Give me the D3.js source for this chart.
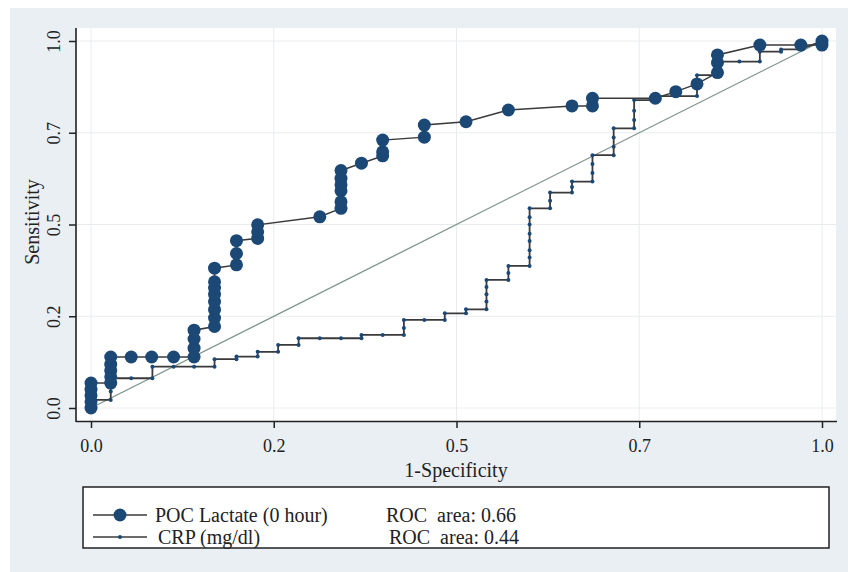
<!DOCTYPE html>
<html>
<head>
<meta charset="utf-8">
<script src="https://cdn.jsdelivr.net/npm/d3@7"></script>
<style>
  body { margin: 0; background: #fff; }
  svg { display: block; font-family: "Liberation Serif", "DejaVu Serif", serif; }
</style>
</head>
<body>
<svg id="chart" width="848" height="572"></svg>
<script>
// axis ticks (Stata rounds 0.25 / 0.75 to one decimal)
const tickValues = [0, 0.25, 0.5, 0.75, 1];
const tickLabels = ['0.0', '0.2', '0.5', '0.7', '1.0'];

// POC Lactate (0 hour)
const lactateFpr = [
  0, 0, 0, 0, 0,
  0.027, 0.027, 0.027, 0.027, 0.027,
  0.055, 0.083, 0.113,
  0.141, 0.141, 0.141, 0.141,
  0.169, 0.169, 0.169, 0.169, 0.169, 0.169, 0.169, 0.169,
  0.199, 0.199, 0.199,
  0.228, 0.228, 0.228,
  0.313,
  0.342, 0.342, 0.342, 0.342, 0.342, 0.342,
  0.370,
  0.399, 0.399, 0.399,
  0.456, 0.456,
  0.513, 0.571, 0.658,
  0.686, 0.686,
  0.772, 0.800, 0.829,
  0.857, 0.857, 0.857,
  0.915, 0.971, 1.0, 1.0
];
const lactateSens = [
  0, 0.017, 0.034, 0.051, 0.068,
  0.068, 0.085, 0.102, 0.119, 0.139,
  0.139, 0.139, 0.139,
  0.139, 0.163, 0.188, 0.212,
  0.222, 0.245, 0.268, 0.290, 0.310, 0.327, 0.344, 0.381,
  0.390, 0.421, 0.456,
  0.462, 0.480, 0.499,
  0.521,
  0.544, 0.562, 0.592, 0.608, 0.626, 0.647,
  0.667,
  0.687, 0.698, 0.730,
  0.738, 0.771,
  0.780, 0.812, 0.823,
  0.823, 0.844,
  0.844, 0.862, 0.883,
  0.914, 0.941, 0.962,
  0.989, 0.989, 0.989, 1.0
];

// CRP (mg/dl)
const crpFpr = [
  0, 0,
  0.027, 0.027, 0.027, 0.027,
  0.055,
  0.084, 0.084,
  0.113, 0.141,
  0.169, 0.169,
  0.199, 0.199,
  0.228, 0.228,
  0.256, 0.256,
  0.284, 0.284,
  0.313, 0.342,
  0.370, 0.370,
  0.399,
  0.428, 0.428, 0.428,
  0.456,
  0.484, 0.484,
  0.513, 0.513,
  0.541, 0.541, 0.541, 0.541, 0.541,
  0.571, 0.571, 0.571,
  0.600, 0.600, 0.600, 0.600, 0.600, 0.600, 0.600, 0.600,
  0.628, 0.628, 0.628,
  0.658, 0.658, 0.658,
  0.686, 0.686, 0.686, 0.686,
  0.715, 0.715, 0.715, 0.715,
  0.743, 0.743, 0.743, 0.743,
  0.772, 0.772,
  0.800,
  0.829, 0.829, 0.829,
  0.857, 0.857,
  0.887,
  0.915, 0.915,
  0.944, 0.944,
  0.971, 1.0
];
const crpSens = [
  0, 0.022,
  0.022, 0.045, 0.068, 0.081,
  0.081,
  0.081, 0.1125,
  0.1125, 0.1125,
  0.1125, 0.133,
  0.133, 0.140,
  0.140, 0.153,
  0.153, 0.172,
  0.172, 0.190,
  0.190, 0.190,
  0.190, 0.199,
  0.199,
  0.199, 0.218, 0.240,
  0.240,
  0.240, 0.258,
  0.258, 0.269,
  0.269, 0.290, 0.310, 0.330, 0.349,
  0.349, 0.368, 0.387,
  0.387, 0.410, 0.430, 0.455, 0.475, 0.500, 0.520, 0.544,
  0.544, 0.565, 0.587,
  0.587, 0.602, 0.617,
  0.617, 0.640, 0.665, 0.689,
  0.689, 0.712, 0.737, 0.762,
  0.762, 0.785, 0.810, 0.839,
  0.839, 0.850,
  0.850,
  0.850, 0.878, 0.907,
  0.907, 0.944,
  0.944,
  0.944, 0.971,
  0.971, 0.977,
  0.977, 1.0
];

const seriesNames = ['POC Lactate (0 hour)', 'CRP (mg/dl)'];
const rocAreas = ['0.66', '0.44'];

const navy = '#1c4876';
const lineCol = '#3a3a3a';

const svg = d3.select('#chart');

const x = d3.scaleLinear().domain([0, 1]).range([91, 822]);
const y = d3.scaleLinear().domain([0, 1]).range([408, 41]);

// outer graph region
svg.append('rect')
  .attr('x', 10).attr('y', 8).attr('width', 838).attr('height', 564)
  .attr('fill', '#e9eff3');

// plot region
svg.append('rect')
  .attr('x', 77).attr('y', 28).attr('width', 759).attr('height', 393)
  .attr('fill', '#ffffff');

// grid
const grid = svg.append('g').attr('stroke', '#e9ecef').attr('stroke-width', 1);
grid.selectAll('line.gx')
  .data(tickValues).enter().append('line')
  .attr('x1', d => x(d)).attr('x2', d => x(d))
  .attr('y1', 28).attr('y2', 421);
grid.selectAll('line.gy')
  .data(tickValues).enter().append('line')
  .attr('y1', d => y(d)).attr('y2', d => y(d))
  .attr('x1', 77).attr('x2', 836);

// axes
const xAxis = svg.append('g')
  .attr('transform', 'translate(0,421)')
  .call(d3.axisBottom(x).tickValues(tickValues)
    .tickFormat((d, i) => tickLabels[i]).tickSize(7));
xAxis.select('.domain').remove();
xAxis.selectAll('line').attr('stroke', '#222').attr('stroke-width', 1.5);
xAxis.selectAll('text')
  .attr('y', 31).attr('dy', 0)
  .attr('font-size', 18).attr('fill', '#222')
  .attr('font-family', '"Liberation Serif", serif');

const yAxis = svg.append('g')
  .attr('transform', 'translate(76,0)')
  .call(d3.axisLeft(y).tickValues(tickValues)
    .tickFormat((d, i) => tickLabels[i]).tickSize(7));
yAxis.select('.domain').remove();
yAxis.selectAll('line').attr('stroke', '#222').attr('stroke-width', 1.5);
yAxis.selectAll('text')
  .attr('x', 0).attr('y', -16).attr('dy', 0)
  .attr('transform', 'rotate(-90)')
  .attr('text-anchor', 'middle')
  .attr('font-size', 18).attr('fill', '#222')
  .attr('font-family', '"Liberation Serif", serif');

svg.append('line')
  .attr('x1', 76).attr('x2', 837).attr('y1', 421.5).attr('y2', 421.5)
  .attr('stroke', '#222').attr('stroke-width', 1.6);
svg.append('line')
  .attr('x1', 76).attr('x2', 76).attr('y1', 28).attr('y2', 422)
  .attr('stroke', '#222').attr('stroke-width', 1.6);

// axis titles
svg.append('text')
  .attr('x', 456).attr('y', 477)
  .attr('text-anchor', 'middle')
  .attr('font-size', 20).attr('fill', '#222')
  .text('1-Specificity');
svg.append('text')
  .attr('transform', 'translate(39,222) rotate(-90)')
  .attr('text-anchor', 'middle')
  .attr('font-size', 20).attr('fill', '#222')
  .text('Sensitivity');

// reference line
svg.append('line')
  .attr('x1', x(0)).attr('y1', y(0)).attr('x2', x(1)).attr('y2', y(1))
  .attr('stroke', '#7d958b').attr('stroke-width', 1.3);

const lactate = lactateFpr.map((d, i) => [d, lactateSens[i]]);
const crp = crpFpr.map((d, i) => [d, crpSens[i]]);

const line = d3.line().x(d => x(d[0])).y(d => y(d[1]));

// CRP
svg.append('path')
  .datum(crp)
  .attr('d', line)
  .attr('fill', 'none')
  .attr('stroke', lineCol)
  .attr('stroke-width', 1.8);
svg.append('g').selectAll('circle')
  .data(crp).enter().append('circle')
  .attr('cx', d => x(d[0])).attr('cy', d => y(d[1]))
  .attr('r', 2)
  .attr('fill', navy);

// Lactate
svg.append('path')
  .datum(lactate)
  .attr('d', line)
  .attr('fill', 'none')
  .attr('stroke', lineCol)
  .attr('stroke-width', 1.5);
svg.append('g').selectAll('circle')
  .data(lactate).enter().append('circle')
  .attr('cx', d => x(d[0])).attr('cy', d => y(d[1]))
  .attr('r', 6.5)
  .attr('fill', navy);

// legend
svg.append('rect')
  .attr('x', 83).attr('y', 487).attr('width', 746).attr('height', 61)
  .attr('fill', '#fff').attr('stroke', '#222').attr('stroke-width', 1.5);

const rows = [
  { y: 515, r: 6.5, tx: 155, ax: 386 },
  { y: 537, r: 2, tx: 158, ax: 389 }
];
const leg = svg.append('g').selectAll('g')
  .data(rows).enter().append('g');
leg.append('line')
  .attr('x1', 93).attr('x2', 147)
  .attr('y1', d => d.y).attr('y2', d => d.y)
  .attr('stroke', lineCol).attr('stroke-width', 1.6);
leg.append('circle')
  .attr('cx', 120).attr('cy', d => d.y).attr('r', d => d.r)
  .attr('fill', navy);
leg.append('text')
  .attr('x', d => d.tx).attr('y', d => d.y + 7)
  .attr('font-size', 20).attr('fill', '#222')
  .text((d, i) => seriesNames[i]);
leg.append('text')
  .attr('x', d => d.ax).attr('y', d => d.y + 7)
  .attr('font-size', 20).attr('fill', '#222')
  .style('white-space', 'pre')
  .text((d, i) => 'ROC  area: ' + rocAreas[i]);
</script>
</body>
</html>
